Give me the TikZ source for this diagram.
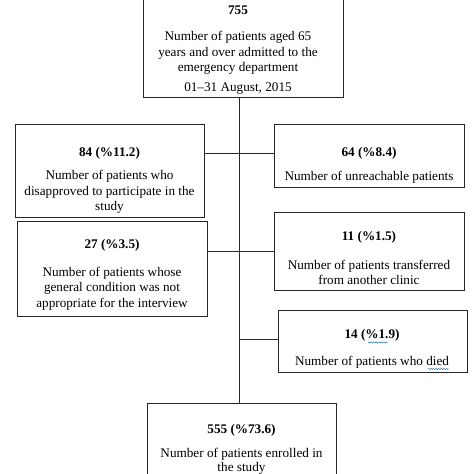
\documentclass[tikz,border=0pt]{standalone}
\usepackage{fontspec}
\setmainfont{Liberation Serif}
\usetikzlibrary{decorations.pathmorphing}
\begin{document}
\begin{tikzpicture}[x=1pt,y=-1pt,
  box/.style={draw=black!85,line width=0.9pt,inner sep=0pt},
  ttl/.style={font=\fontsize{13.2}{15}\selectfont\bfseries,inner sep=0pt},
  body/.style={font=\fontsize{13.2}{15.5}\selectfont,align=center,inner sep=0pt},
  conn/.style={draw=black!85,line width=0.7pt},
  squig/.style={draw=teal!70!blue,line width=0.4pt,decorate,decoration={snake,amplitude=0.6pt,segment length=2.5pt}}]
\useasboundingbox (0,0) rectangle (474,474);
\clip (0,0) rectangle (474,474);
% boxes
\node[box,minimum width=200pt,minimum height=102pt] (top) at (243,46) {};
\node[box,minimum width=189pt,minimum height=93pt] (b84) at (109.5,170.5) {};
\node[box,minimum width=190pt,minimum height=63pt] (b64) at (369,155.5) {};
\node[box,minimum width=190pt,minimum height=95pt] (b27) at (112,268.5) {};
\node[box,minimum width=190pt,minimum height=78pt] (b11) at (369,251) {};
\node[box,minimum width=189pt,minimum height=62pt] (b14) at (372.5,341) {};
\node[box,minimum width=189pt,minimum height=90pt] (bot) at (241.5,448) {};
% texts
\node[ttl] (t755) at (238,10) {755};
\node[body] (x755) at (238,53) {Number of patients aged 65\\years and over admitted to the\\emergency department};
\node[body] (d755) at (238,89) {01–31 August, 2015};
\node[ttl] (t84) at (109.5,153) {84 (\%11.2)};
\node[body] (x84) at (109.5,192) {Number of patients who\\disapproved to participate in the\\study};
\node[ttl] (t64) at (369,153) {64 (\%8.4)};
\node[body] (x64) at (369,177) {Number of unreachable patients};
\node[ttl] (t27) at (112,245) {27 (\%3.5)};
\node[body] (x27) at (112,288.5) {Number of patients whose\\general condition was not\\appropriate for the interview};
\node[ttl] (t11) at (369,237) {11 (\%1.5)};
\node[body] (x11) at (369,272.5) {Number of patients transferred\\from another clinic};
\node[ttl] (t14) at (372,335) {14 (\%1.9)};
\node[body] (x14) at (372,362) {Number of patients who died};
\node[ttl] (t555) at (241.5,430) {555 (\%73.6)};
\node[body,font=\fontsize{13.2}{14}\selectfont] (x555) at (241.5,461.5) {Number of patients enrolled in\\the study};
% connectors
\coordinate (trunk) at (239,0);
\coordinate (j1) at (239,153);
\coordinate (j2) at (239,251);
\coordinate (j3) at (239,339);
\draw[conn] (top.south -| trunk) -- (bot.north -| trunk);
\draw[conn] (b84.east |- j1) -- (b64.west |- j1);
\draw[conn] (b27.east |- j2) -- (b11.west |- j2);
\draw[conn] (j3) -- (b14.west |- j3);
% spell-check squiggles
\draw[squig] (368,342.5) -- (388,342.5);
\draw[squig] (428,369) -- (449,369);
\end{tikzpicture}
\end{document}
